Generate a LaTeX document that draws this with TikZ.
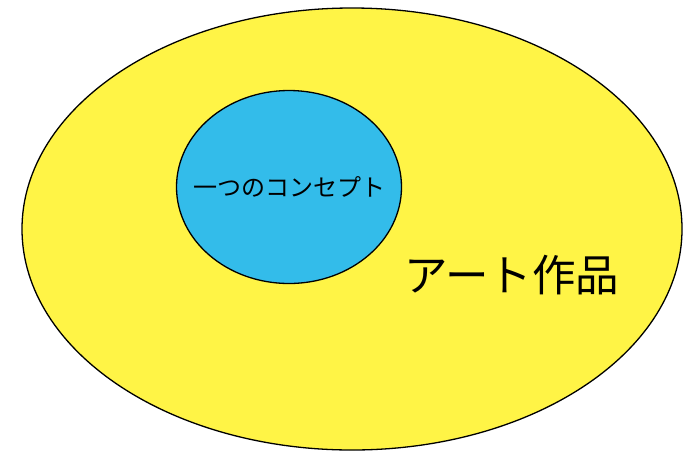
\documentclass[tikz,border=0pt]{standalone}
\usepackage{fontspec}
\newfontfamily\jpfont{Noto Sans CJK JP}
\usetikzlibrary{shapes.geometric,positioning}
\definecolor{artyellow}{RGB}{255,244,70}
\definecolor{conceptblue}{RGB}{51,188,234}

\begin{document}
\begin{tikzpicture}[
  x=1pt, y=-1pt,
  blob/.style={ellipse, draw, line width=1.3pt, inner sep=0pt},
  lbl/.style={inner sep=0pt, font=\jpfont}
]
  \useasboundingbox (0,0) rectangle (700,464);

  \node[blob, fill=artyellow, minimum width=660pt, minimum height=442pt] (art) at (352,229) {};
  \node[blob, fill=conceptblue, minimum width=225pt, minimum height=193pt] (concept) at (289,187) {};

  \node[lbl, font=\jpfont\fontsize{24}{28}\selectfont] (conceptlbl) at (concept) {一つのコンセプト};
  \node[lbl, font=\jpfont\fontsize{43.5}{50}\selectfont] (artlbl) at (512,275) {アート作品};
\end{tikzpicture}
\end{document}
